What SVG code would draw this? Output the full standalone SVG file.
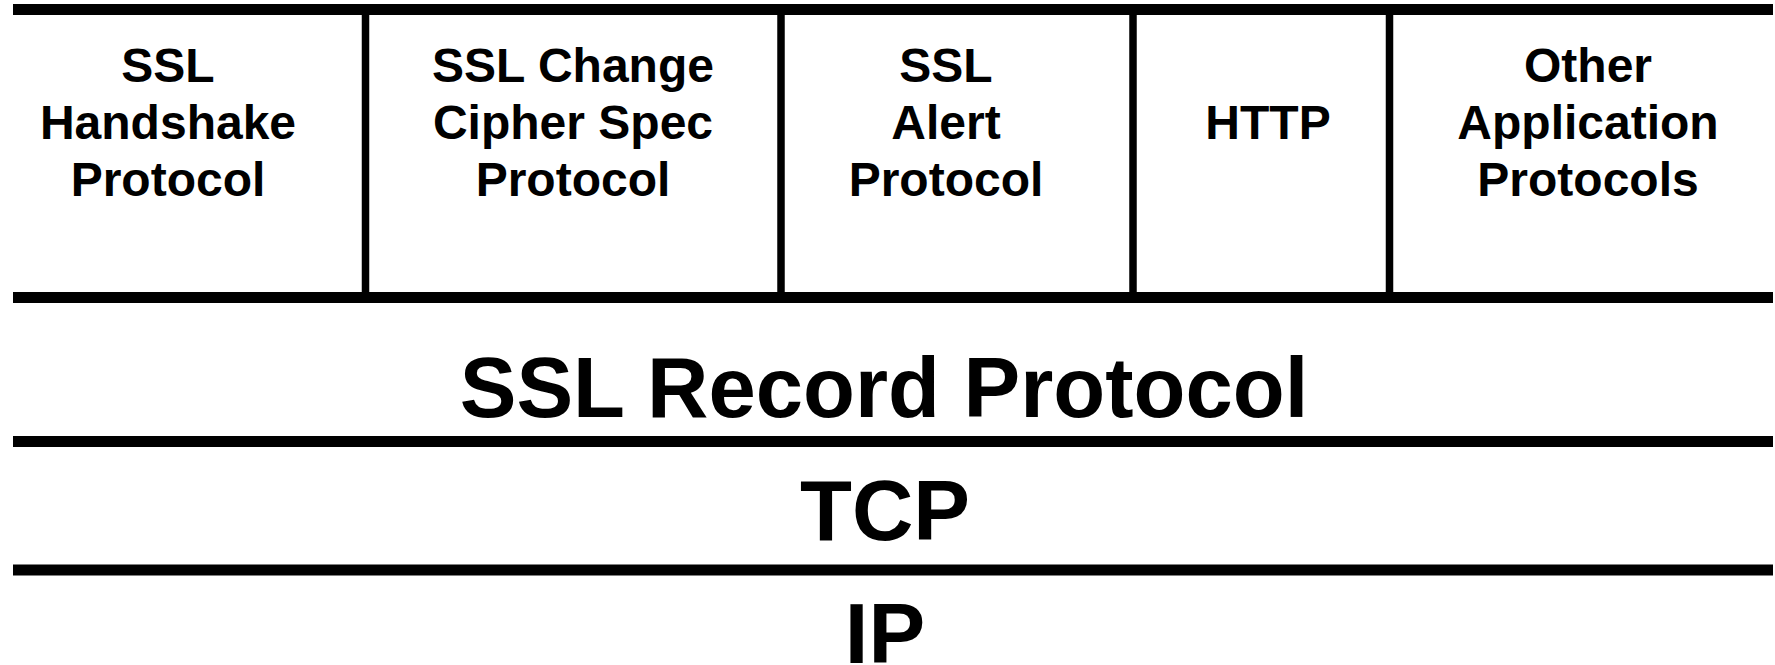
<svg xmlns="http://www.w3.org/2000/svg" width="1775" height="665" viewBox="0 0 1775 665">
  <style>
    .rule { stroke: #000; stroke-width: 11; fill: none; }
    .div { stroke: #000; stroke-width: 7.5; fill: none; }
    .app { font-family: "Liberation Sans", Arial, sans-serif; font-weight: bold; font-size: 48px; text-anchor: middle; fill: #000; }
    .layer { font-family: "Liberation Sans", Arial, sans-serif; font-weight: bold; font-size: 85px; text-anchor: middle; fill: #000; }
  </style>
  <rect width="1775" height="665" fill="#fff"/>

  <!-- horizontal layer boundaries and cell dividers -->
  <g id="rules">
    <line class="rule" x1="13" y1="9.5" x2="1773" y2="9.5"/>
    <line class="rule" x1="13" y1="297.5" x2="1773" y2="297.5"/>
    <line class="rule" x1="13" y1="441.5" x2="1773" y2="441.5"/>
    <line class="rule" x1="13" y1="570" x2="1773" y2="570"/>
    <line class="div" x1="365.5" y1="14" x2="365.5" y2="293"/>
    <line class="div" x1="781" y1="14" x2="781" y2="293"/>
    <line class="div" x1="1133" y1="14" x2="1133" y2="293"/>
    <line class="div" x1="1389.5" y1="14" x2="1389.5" y2="293"/>
  </g>

  <!-- application-level protocols -->
  <g id="handshake">
    <text class="app" x="168" y="82">SSL</text>
    <text class="app" x="168" y="139">Handshake</text>
    <text class="app" x="168" y="196">Protocol</text>
  </g>
  <g id="change-cipher-spec">
    <text class="app" x="573" y="82">SSL Change</text>
    <text class="app" x="573" y="139">Cipher Spec</text>
    <text class="app" x="573" y="196">Protocol</text>
  </g>
  <g id="alert">
    <text class="app" x="946" y="82">SSL</text>
    <text class="app" x="946" y="139">Alert</text>
    <text class="app" x="946" y="196">Protocol</text>
  </g>
  <g id="http">
    <text class="app" x="1268" y="139">HTTP</text>
  </g>
  <g id="other-apps">
    <text class="app" x="1588" y="82">Other</text>
    <text class="app" x="1588" y="139">Application</text>
    <text class="app" x="1588" y="196">Protocols</text>
  </g>

  <!-- lower layers -->
  <g id="record">
    <text class="layer" x="884" y="417">SSL Record Protocol</text>
  </g>
  <g id="tcp">
    <text class="layer" x="885" y="540">TCP</text>
  </g>
  <g id="ip">
    <text class="layer" x="885" y="663">IP</text>
  </g>
</svg>
